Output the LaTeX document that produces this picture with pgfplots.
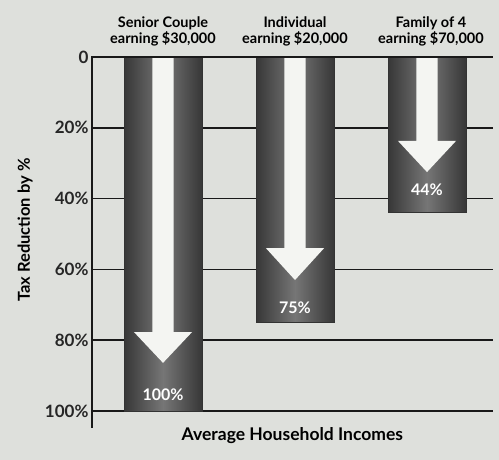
\documentclass[border=0pt]{standalone}
\usepackage{pgfplots}
\pgfplotsset{compat=1.18}
\usepackage{fontspec}
\setmainfont{Lato}
\definecolor{bg}{RGB}{222,224,220}
\definecolor{barmid}{RGB}{118,118,118}
\definecolor{baredge}{RGB}{55,55,55}
\definecolor{arrowc}{RGB}{244,245,242}
\tikzset{catlab/.style={anchor=base, inner sep=0pt, font=\bfseries\fontsize{14.5}{14.5}\selectfont}}
\begin{document}
\begin{tikzpicture}[x=1pt,y=1pt]
\fill[bg] (0,0) rectangle (499,460);
\useasboundingbox (0,0) rectangle (499,460);
\begin{axis}[
  at={(92pt,32pt)}, anchor=south west,
  scale only axis, width=401pt, height=371pt,
  xmin=-0.538, xmax=2.5, ymin=0, ymax=104.8, y dir=reverse,
  axis line style={draw=none},
  xtick=\empty,
  ytick={0,20,40,60,80,100},
  yticklabels={0,20\%,40\%,60\%,80\%,100\%},
  yticklabel style={font=\bfseries\fontsize{17}{17}\selectfont, text=black!85},
  major tick length=0,
  ymajorgrids, major grid style={black!90, line width=1.6pt},
  clip=false,
  /pgf/number format/assume math mode=true,
  barstyle/.style={ybar, bar width=0.59, bar shift=0pt, draw=black!80, line width=0.6pt,
    left color=baredge, right color=baredge, middle color=barmid},
]
\addplot[barstyle] coordinates {(0,100)};
\addplot[barstyle] coordinates {(1,75)};
\addplot[barstyle] coordinates {(2,44)};
\addplot[fill=arrowc, draw=none] coordinates {(-0.08,0) (0.08,0) (0.08,77.7) (0.22,77.7) (0,86.4) (-0.22,77.7) (-0.08,77.7)} -- cycle;
\addplot[fill=arrowc, draw=none] coordinates {(0.92,0) (1.08,0) (1.08,54) (1.22,54) (1,63) (0.78,54) (0.92,54)} -- cycle;
\addplot[fill=arrowc, draw=none] coordinates {(1.92,0) (2.08,0) (2.08,23.7) (2.22,23.7) (2,32.5) (1.78,23.7) (1.92,23.7)} -- cycle;
\draw[black!90, line width=1.8pt] (axis cs:-0.538,0) -- (axis cs:2.5,0);
\draw[black!90, line width=1.6pt] (axis cs:-0.538,-0.2) -- (axis cs:-0.538,104.8);
% bar value labels
\node[text=white, font=\bfseries\fontsize{16}{16}\selectfont] at (axis cs:0,95.5) {100\%};
\node[text=white, font=\bfseries\fontsize{16}{16}\selectfont] at (axis cs:1,70.8) {75\%};
\node[text=white, font=\bfseries\fontsize{16}{16}\selectfont] at (axis cs:2,37.4) {44\%};
% category labels
\node[catlab] at (axis cs:0,-8.3) {Senior Couple};
\node[catlab] at (axis cs:0,-3.95) {earning \$30,000};
\node[catlab] at (axis cs:1,-8.3) {Individual};
\node[catlab] at (axis cs:1,-3.95) {earning \$20,000};
\node[catlab] at (axis cs:2.03,-8.3) {Family of 4};
\node[catlab] at (axis cs:2.03,-3.95) {earning \$70,000};
% axis labels
\node[anchor=base, font=\bfseries\fontsize{17.5}{17.5}\selectfont] at (axis cs:0.98,108.2) {Average Household Incomes};
\node[rotate=90, font=\bfseries\fontsize{16.5}{16.5}\selectfont] at (axis cs:-1.045,48.9) {Tax Reduction by \%};
\end{axis}
\end{tikzpicture}
\end{document}
